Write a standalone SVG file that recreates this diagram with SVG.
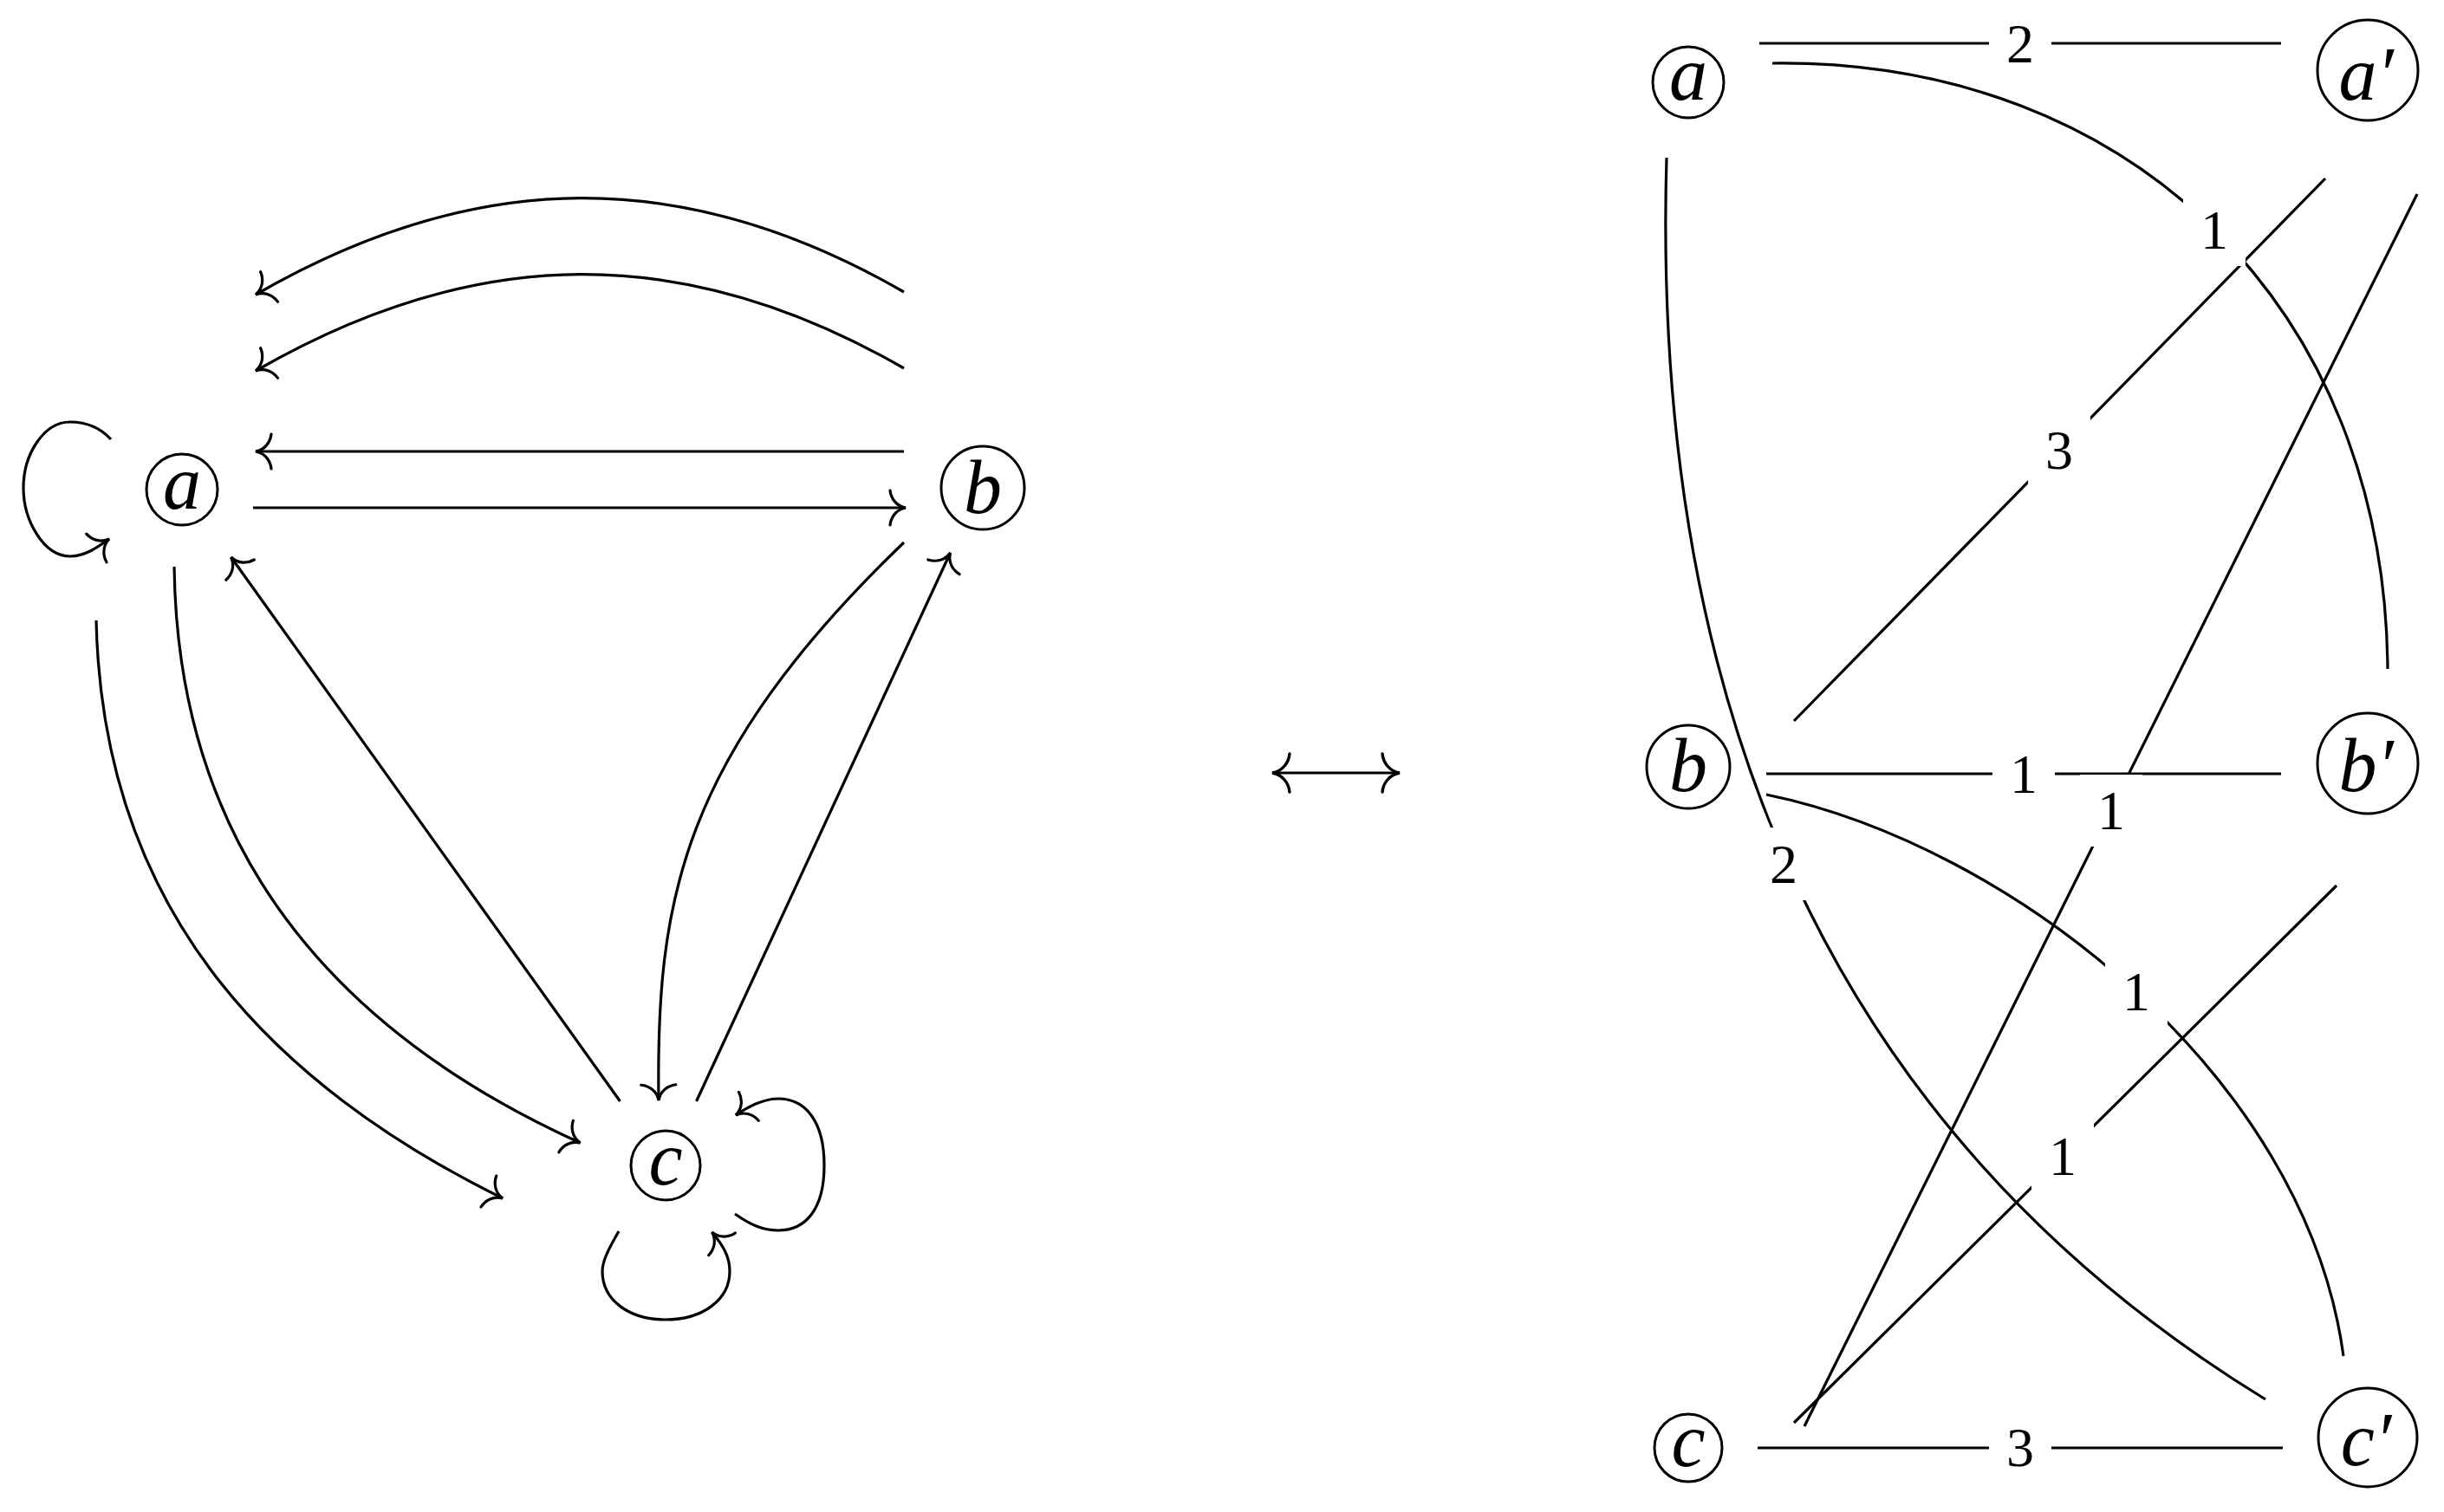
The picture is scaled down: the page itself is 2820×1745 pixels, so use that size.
<svg xmlns="http://www.w3.org/2000/svg" width="2820" height="1745" viewBox="0 0 2820 1745">
<style>
.e{fill:none;stroke:#000;stroke-width:3.2}
.n{fill:none;stroke:#000;stroke-width:3}
.t{font-family:"Liberation Serif",serif;font-style:italic;font-size:88px;text-anchor:middle;fill:#000}
.w{font-family:"Liberation Serif",serif;font-size:64px;text-anchor:middle;fill:#000}
.bg{fill:#fff;stroke:none}
</style>
<defs>
<marker id="tip" markerUnits="userSpaceOnUse" viewBox="-25 -25 30 50" refX="0" refY="0" markerWidth="30" markerHeight="50" orient="auto-start-reverse" overflow="visible">
<path d="M-18,-20 C-17,-11 -11,-2 0,0 C-11,2 -17,11 -18,20" fill="none" stroke="#000" stroke-width="3.2" stroke-linecap="round"/>
</marker>
<marker id="big" markerUnits="userSpaceOnUse" viewBox="-25 -25 30 50" refX="0" refY="0" markerWidth="30" markerHeight="50" orient="auto-start-reverse" overflow="visible">
<path d="M-20,-22 C-19,-12 -12,-2 0,0 C-12,2 -19,12 -20,22" fill="none" stroke="#000" stroke-width="3.4" stroke-linecap="round"/>
</marker>
</defs>

<g id="left-connectors" marker-end="url(#tip)">
<path class="e" d="M1043,337 C789,190.5 549,193.5 295,340"/>
<path class="e" d="M1043,425 C789,278.5 549,281.5 295,428"/>
<path class="e" d="M1043,521 L295,521"/>
<path class="e" d="M292,586 L1045,586"/>
<path class="e" d="M128,507 C115,493 98,487 81,487 C50,487 27,525 27,563 C27,600 50,642 81,642 C98,642 112,632 126,622"/>
<path class="e" d="M111,716 C118,1040 300,1245 580,1383"/>
<path class="e" d="M201,654 C205,980 385,1190 669.5,1319"/>
<path class="e" d="M715.5,1271 L266.6,643"/>
<path class="e" d="M1043,626 C785,875 757,1040 760,1270"/>
<path class="e" d="M803.5,1271 L1096.5,638"/>
<path class="e" d="M848,1401 C865,1413 880,1420 898,1420 C930,1420 951,1395 951,1345 C951,1295 930,1268 898,1268 C880,1268 862,1278 849,1287"/>
<path class="e" d="M714,1421 C703,1440 695,1455 695,1467 C695,1500 725,1523 768,1523 C811,1523 842,1500 842,1467 C842,1450 834,1437 821.5,1422"/>
</g>

<g id="node-a">
<circle class="n" cx="210" cy="565" r="41"/>
<text class="t" x="210" y="587">a</text>
</g>
<g id="node-b">
<circle class="n" cx="1134" cy="563" r="48"/>
<text class="t" x="1134" y="592">b</text>
</g>
<g id="node-c">
<circle class="n" cx="768" cy="1345" r="40"/>
<text class="t" x="768" y="1367">c</text>
</g>

<g id="equivalence">
<path class="e" d="M1468,892 L1615,892" marker-start="url(#big)" marker-end="url(#big)"/>
</g>

<g id="right-connectors">
<path class="e" d="M2030,50 L2632,50"/>
<path class="e" d="M2045,73 C2461,68 2752,357 2755,772"/>
<path class="e" d="M2683,206 L2070,832"/>
<path class="e" d="M2789,224 L2082,1646"/>
<path class="e" d="M1923,182 C1905,800 2100,1300 2614,1615"/>
<path class="e" d="M2038,893 L2632,893"/>
<path class="e" d="M2038,917 C2320,975 2660,1240 2704,1565"/>
<path class="e" d="M2696,1022 L2070,1642"/>
<path class="e" d="M2028,1671 L2634,1671"/>
</g>

<g id="edge-labels">
<rect class="bg" x="2295" y="8" width="72" height="84"/>
<text class="w" x="2331" y="72">2</text>
<rect class="bg" x="2519" y="223" width="72" height="84"/>
<text class="w" x="2555" y="287">1</text>
<rect class="bg" x="2340" y="478" width="72" height="84"/>
<text class="w" x="2376" y="541">3</text>
<rect class="bg" x="2299" y="851" width="72" height="84"/>
<text class="w" x="2335" y="915">1</text>
<rect class="bg" x="2400" y="894" width="72" height="83"/>
<text class="w" x="2436" y="957">1</text>
<rect class="bg" x="2022" y="955" width="72" height="84"/>
<text class="w" x="2058" y="1019">2</text>
<rect class="bg" x="2429" y="1102" width="72" height="84"/>
<text class="w" x="2465" y="1166">1</text>
<rect class="bg" x="2344" y="1292" width="72" height="84"/>
<text class="w" x="2380" y="1356">1</text>
<rect class="bg" x="2295" y="1629" width="72" height="84"/>
<text class="w" x="2331" y="1692">3</text>
</g>

<g id="node-a2">
<circle class="n" cx="1948" cy="95" r="41"/>
<text class="t" x="1948" y="115">a</text>
</g>
<g id="node-a-prime">
<circle class="n" cx="2732" cy="81" r="58"/>
<text class="t" x="2730" y="115">a′</text>
</g>
<g id="node-b2">
<circle class="n" cx="1948" cy="885" r="48"/>
<text class="t" x="1948" y="913">b</text>
</g>
<g id="node-b-prime">
<circle class="n" cx="2732" cy="881" r="58"/>
<text class="t" x="2730" y="913">b′</text>
</g>
<g id="node-c2">
<circle class="n" cx="1948" cy="1671" r="39"/>
<text class="t" x="1948" y="1692">c</text>
</g>
<g id="node-c-prime">
<circle class="n" cx="2732" cy="1659" r="57"/>
<text class="t" x="2730" y="1691">c′</text>
</g>
</svg>
